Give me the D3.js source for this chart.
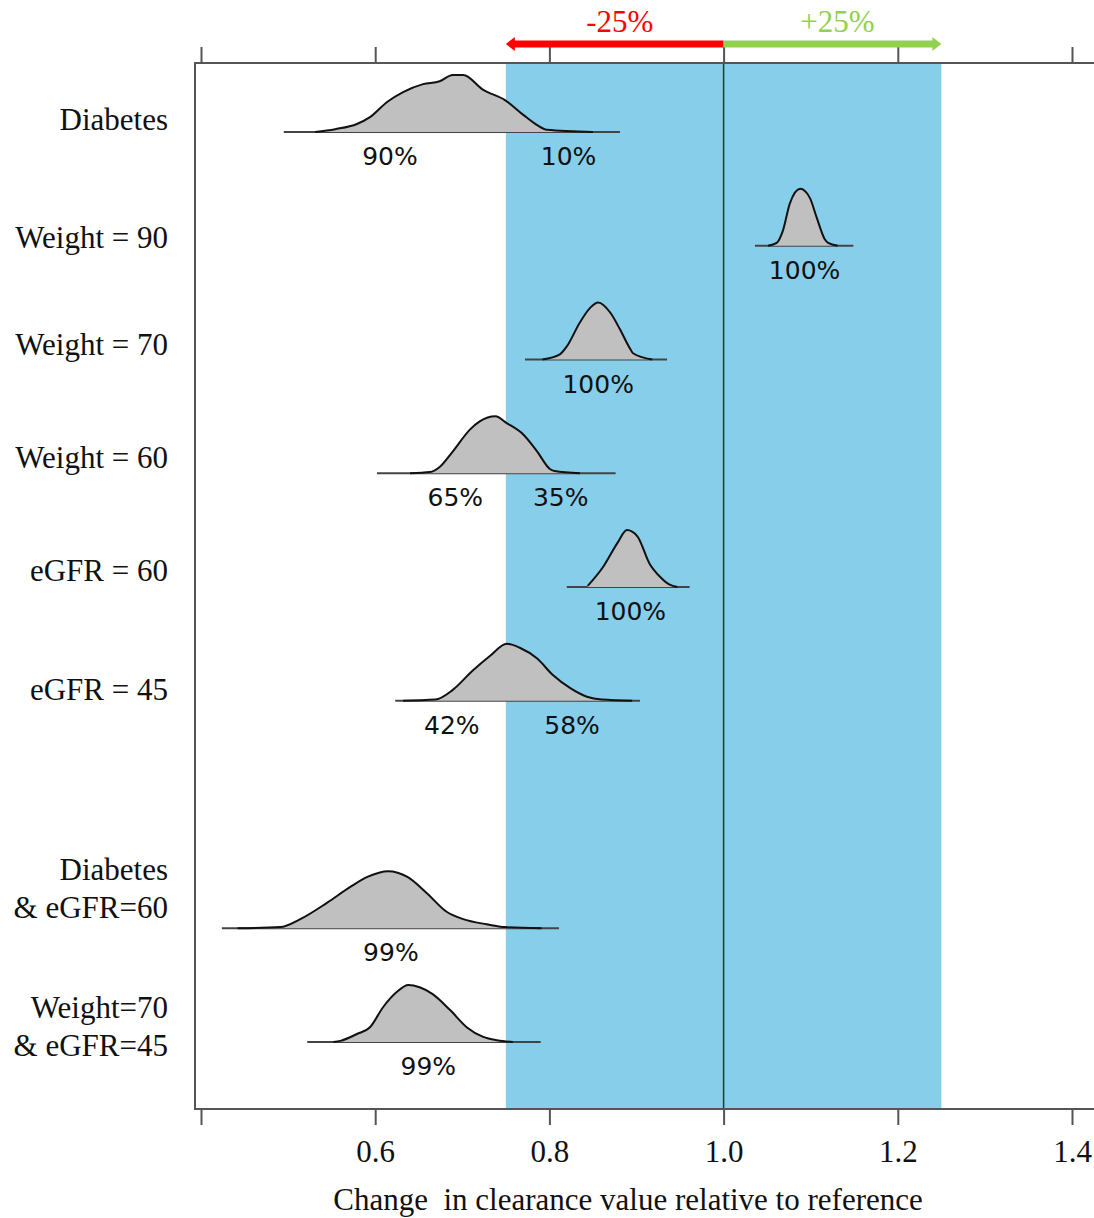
<!DOCTYPE html>
<html>
<head>
<meta charset="utf-8">
<script src="https://cdn.jsdelivr.net/npm/d3@7"></script>
<style>
  body { margin: 0; background: #fff; }
  text { font-family: "Liberation Serif", "Times New Roman", serif; }
  .pct { font-family: "DejaVu Sans", Verdana, sans-serif; }
</style>
</head>
<body>
<div id="chart"></div>
<script>
// row labels (top to bottom), and the slot each row sits in (slot 6 is empty)
const rowLabels = [["Diabetes"], ["Weight = 90"], ["Weight = 70"], ["Weight = 60"],
    ["eGFR = 60"], ["eGFR = 45"], ["Diabetes", "& eGFR=60"], ["Weight=70", "& eGFR=45"]];
const rowSlots = [0, 1, 2, 3, 4, 5, 7, 8];

// extent of the thin base line of each row
const baseRanges = [[0.495, 0.881], [1.036, 1.149], [0.772, 0.935], [0.602, 0.876],
    [0.820, 0.961], [0.623, 0.904], [0.424, 0.811], [0.522, 0.790]];

// density outlines: [value, relative height]
const curves = [
    [[0.531, 0], [0.554, 0.05], [0.579, 0.14], [0.594, 0.26], [0.614, 0.53], [0.632, 0.70], [0.655, 0.84],
     [0.674, 0.89], [0.689, 1.0], [0.701, 1.0], [0.724, 0.74], [0.749, 0.56], [0.770, 0.30], [0.786, 0.12],
     [0.797, 0.04], [0.850, 0]],
    [[1.051, 0], [1.061, 0.05], [1.068, 0.26], [1.076, 0.74], [1.088, 1.0], [1.099, 0.84], [1.107, 0.49],
     [1.116, 0.12], [1.120, 0.05], [1.131, 0]],
    [[0.792, 0], [0.812, 0.09], [0.820, 0.23], [0.835, 0.65], [0.847, 0.91], [0.856, 1.0], [0.870, 0.82],
     [0.881, 0.53], [0.893, 0.18], [0.896, 0.11], [0.918, 0]],
    [[0.640, 0], [0.663, 0.02], [0.674, 0.11], [0.689, 0.38], [0.709, 0.77], [0.720, 0.91], [0.738, 1.0],
     [0.751, 0.88], [0.770, 0.68], [0.786, 0.38], [0.801, 0.07], [0.806, 0.04], [0.835, 0]],
    [[0.844, 0.02], [0.862, 0.36], [0.878, 0.77], [0.889, 1.0], [0.901, 0.89], [0.915, 0.41],
     [0.927, 0.18], [0.938, 0.04], [0.947, 0]],
    [[0.632, 0], [0.669, 0.02], [0.689, 0.19], [0.712, 0.53], [0.732, 0.79], [0.751, 1.0], [0.766, 0.93],
     [0.786, 0.74], [0.804, 0.45], [0.824, 0.22], [0.843, 0.07], [0.860, 0.02], [0.895, 0]],
    [[0.442, 0], [0.491, 0.02], [0.514, 0.16], [0.545, 0.45], [0.571, 0.72], [0.591, 0.90], [0.615, 1.0],
     [0.637, 0.90], [0.659, 0.62], [0.682, 0.29], [0.701, 0.16], [0.728, 0.07], [0.749, 0.02], [0.791, 0]],
    [[0.552, 0], [0.560, 0.02], [0.579, 0.14], [0.594, 0.26], [0.609, 0.61], [0.625, 0.88], [0.638, 1.0],
     [0.651, 0.96], [0.666, 0.84], [0.686, 0.56], [0.705, 0.26], [0.724, 0.09], [0.740, 0.03], [0.758, 0]]
];

// share of the distribution on each side of -25%: [text, centre value]
const pctLabels = [
    [["90%", 0.617], ["10%", 0.822]],
    [["100%", 1.093]],
    [["100%", 0.856]],
    [["65%", 0.692], ["35%", 0.813]],
    [["100%", 0.893]],
    [["42%", 0.688], ["58%", 0.826]],
    [["99%", 0.618]],
    [["99%", 0.661]]
];

const tickValues = [0.4, 0.6, 0.8, 1.0, 1.2, 1.4];
const bandRange = [0.75, 1.25];
const refValue = 1.0;
const xTitle = "Change\u00a0 in clearance value relative to reference";

// layout
const width = 1094, height = 1218;
const frameLeft = 195, frameTop = 63, frameBottom = 1109;
const labelNudge = [-12, -8, -15, -15, -16, -11, -58, -34];

const x = d3.scaleLinear().domain([0.4, 1.4]).range([201, 1072]);
const y = d3.scaleLinear().domain([0, 8]).range([132, 1042]);
const h = d3.scaleLinear().domain([0, 1]).range([0, 57]);

const svg = d3.select("#chart").append("svg")
    .attr("width", width)
    .attr("height", height)
    .attr("viewBox", [0, 0, width, height]);

// blue band and reference line
svg.append("rect")
    .attr("x", x(bandRange[0]))
    .attr("y", frameTop)
    .attr("width", x(bandRange[1]) - x(bandRange[0]))
    .attr("height", frameBottom - frameTop)
    .attr("fill", "#87ceeb");

svg.append("line")
    .attr("x1", x(refValue)).attr("x2", x(refValue))
    .attr("y1", frameTop).attr("y2", frameBottom)
    .attr("stroke", "#333").attr("stroke-width", 1.5);

// frame
svg.append("path")
    .attr("d", `M${width + 2},${frameTop}H${frameLeft}V${frameBottom}H${width + 2}`)
    .attr("fill", "none")
    .attr("stroke", "#555")
    .attr("stroke-width", 2);

// axes
const bottomAxis = svg.append("g")
    .attr("transform", `translate(0,${frameBottom})`)
    .call(d3.axisBottom(x).tickValues(tickValues).tickSize(16).tickPadding(15)
        .tickFormat(d => d === 0.4 ? "" : d3.format(".1f")(d)));
bottomAxis.select(".domain").remove();
bottomAxis.selectAll(".tick line").attr("stroke", "#555").attr("stroke-width", 2);
bottomAxis.selectAll(".tick text")
    .attr("font-family", "Liberation Serif, Times New Roman, serif")
    .attr("font-size", 31)
    .attr("fill", "#111");

const topAxis = svg.append("g")
    .attr("transform", `translate(0,${frameTop})`)
    .call(d3.axisTop(x).tickValues(tickValues).tickSize(16).tickFormat(""));
topAxis.select(".domain").remove();
topAxis.selectAll(".tick line").attr("stroke", "#555").attr("stroke-width", 2);

// -25% / +25% arrows
const arrowY = 44;
const arrow = (from, to, color) => {
    const dir = Math.sign(x(to) - x(from));
    const tip = x(to);
    svg.append("line")
        .attr("x1", x(from)).attr("x2", tip - dir * 6)
        .attr("y1", arrowY).attr("y2", arrowY)
        .attr("stroke", color).attr("stroke-width", 7);
    svg.append("path")
        .attr("d", `M${tip},${arrowY}L${tip - dir * 9},${arrowY - 7}L${tip - dir * 9},${arrowY + 7}Z`)
        .attr("fill", color);
};
arrow(refValue, bandRange[0], "#ff0000");
arrow(refValue, bandRange[1], "#92d050");

svg.append("text")
    .attr("x", (x(refValue) + x(bandRange[0])) / 2 + 5)
    .attr("y", 32)
    .attr("text-anchor", "middle")
    .attr("font-size", 31)
    .attr("fill", "#ff0000")
    .text("-25%");
svg.append("text")
    .attr("x", (x(refValue) + x(bandRange[1])) / 2 + 5)
    .attr("y", 32)
    .attr("text-anchor", "middle")
    .attr("font-size", 31)
    .attr("fill", "#92d050")
    .text("+25%");

// rows
const area = d3.area()
    .x(d => x(d[0]))
    .y0(0)
    .y1(d => -h(d[1]))
    .curve(d3.curveMonotoneX);
const outline = d3.line()
    .x(d => x(d[0]))
    .y(d => -h(d[1]))
    .curve(d3.curveMonotoneX);

const rows = svg.append("g")
    .selectAll("g")
    .data(rowLabels.map((label, i) => ({
        label, slot: rowSlots[i], range: baseRanges[i], curve: curves[i], pcts: pctLabels[i], nudge: labelNudge[i]
    })))
    .join("g")
    .attr("transform", d => `translate(0,${y(d.slot)})`);

rows.append("line")
    .attr("x1", d => x(d.range[0]))
    .attr("x2", d => x(d.range[1]))
    .attr("stroke", "#444")
    .attr("stroke-width", 2.2);

rows.append("path")
    .attr("d", d => area(d.curve))
    .attr("fill", "#c0c0c0");

rows.append("path")
    .attr("d", d => outline(d.curve))
    .attr("fill", "none")
    .attr("stroke", "#111")
    .attr("stroke-width", 2);

rows.each(function (d) {
    const g = d3.select(this);
    g.selectAll("text.pct")
        .data(d.pcts)
        .join("text")
        .attr("class", "pct")
        .attr("x", p => x(p[1]))
        .attr("y", 33)
        .attr("text-anchor", "middle")
        .attr("font-size", 25)
        .attr("fill", "#111")
        .text(p => p[0]);

    const lab = g.append("text")
        .attr("text-anchor", "end")
        .attr("font-size", 31)
        .attr("fill", "#111");
    d.label.forEach((line, j) => {
        lab.append("tspan")
            .attr("x", 168)
            .attr("y", d.nudge + 10 + j * 38)
            .text(line);
    });
});

// axis title
svg.append("text")
    .attr("x", 628)
    .attr("y", 1210)
    .attr("text-anchor", "middle")
    .attr("font-size", 31)
    .attr("fill", "#111")
    .text(xTitle);
</script>
</body>
</html>
